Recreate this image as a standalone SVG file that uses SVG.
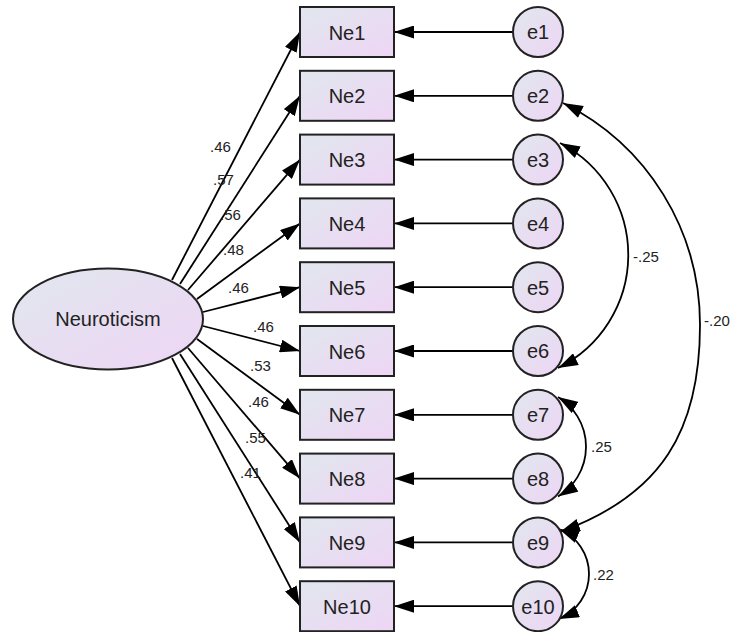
<svg xmlns="http://www.w3.org/2000/svg" width="731" height="632" viewBox="0 0 731 632">
  <defs>
    <linearGradient id="fillGrad" x1="0" y1="0" x2="1" y2="1">
      <stop offset="0" stop-color="#e1e7ee"/>
      <stop offset="1" stop-color="#eed5f5"/>
    </linearGradient>
    <marker id="arrow" viewBox="0 0 20 13" refX="20" refY="6.5" markerWidth="20" markerHeight="13" markerUnits="userSpaceOnUse" orient="auto-start-reverse">
      <path d="M0,0 L20,6.5 L0,13 z" fill="#000"/>
    </marker>
    <style>
      .box { fill: url(#fillGrad); stroke: #222; stroke-width: 2; }
      .err { fill: url(#fillGrad); stroke: #222; stroke-width: 2; }
      .lat { fill: url(#fillGrad); stroke: #222; stroke-width: 2; }
      .path { fill: none; stroke: #000; stroke-width: 1.8; marker-end: url(#arrow); }
      .cov { fill: none; stroke: #000; stroke-width: 1.8; marker-start: url(#arrow); marker-end: url(#arrow); }
      .name { font-family: "Liberation Sans", Arial, sans-serif; font-size: 20px; fill: #222; text-anchor: middle; }
      .coef { font-family: "Liberation Sans", Arial, sans-serif; font-size: 15px; fill: #222; }
    </style>
  </defs>

  <!-- connectors -->
  <g id="connectors">
    <!-- factor loadings -->
    <path class="path" d="M172,280 L300,32"/>
    <path class="path" d="M180,284 L300,95.8"/>
    <path class="path" d="M188,290 L300,159.6"/>
    <path class="path" d="M197,299 L300,223.4"/>
    <path class="path" d="M203,312 L300,287.2"/>
    <path class="path" d="M203,326 L300,351"/>
    <path class="path" d="M197,339 L300,414.8"/>
    <path class="path" d="M188,348 L300,478.6"/>
    <path class="path" d="M180,354 L300,542.4"/>
    <path class="path" d="M172,358 L300,606.2"/>
    <!-- error terms -->
    <path class="path" d="M513,32 L394,32"/>
    <path class="path" d="M513,95.8 L394,95.8"/>
    <path class="path" d="M513,159.6 L394,159.6"/>
    <path class="path" d="M513,223.4 L394,223.4"/>
    <path class="path" d="M513,287.2 L394,287.2"/>
    <path class="path" d="M513,351 L394,351"/>
    <path class="path" d="M513,414.8 L394,414.8"/>
    <path class="path" d="M513,478.6 L394,478.6"/>
    <path class="path" d="M513,542.4 L394,542.4"/>
    <path class="path" d="M513,606.2 L394,606.2"/>
    <!-- error covariances -->
    <path class="cov" d="M563,103 C647.7,145.3 700,230.3 700,325 C700,430 662,495 560,532"/>
    <path class="cov" d="M560,143 A126,126 0 0 1 558,368"/>
    <path class="cov" d="M558,397 A58.2,58.2 0 0 1 558,496.5"/>
    <path class="cov" d="M559,529 A48.75,48.75 0 0 1 559,619"/>
    <!-- coefficients -->
    <text class="coef" x="210" y="151.5">.46</text>
    <text class="coef" x="213" y="185">.57</text>
    <text class="coef" x="220" y="219.5">.56</text>
    <text class="coef" x="223" y="255">.48</text>
    <text class="coef" x="228" y="293">.46</text>
    <text class="coef" x="253" y="331.5">.46</text>
    <text class="coef" x="250" y="370.5">.53</text>
    <text class="coef" x="248" y="407">.46</text>
    <text class="coef" x="245" y="442.5">.55</text>
    <text class="coef" x="240" y="478">.41</text>
    <text class="coef" x="633" y="261.5">-.25</text>
    <text class="coef" x="704" y="325.5">-.20</text>
    <text class="coef" x="591" y="451.5">.25</text>
    <text class="coef" x="593" y="580">.22</text>
  </g>

  <!-- latent factor -->
  <g id="Neuroticism">
    <ellipse class="lat" cx="108" cy="319" rx="95" ry="50.5"/>
    <text class="name" x="108" y="326">Neuroticism</text>
  </g>

  <!-- observed items -->
  <g id="Ne1"><rect class="box" x="300" y="7" width="94" height="50"/><text class="name" x="347" y="39.5">Ne1</text></g>
  <g id="Ne2"><rect class="box" x="300" y="70.8" width="94" height="50"/><text class="name" x="347" y="103.3">Ne2</text></g>
  <g id="Ne3"><rect class="box" x="300" y="134.6" width="94" height="50"/><text class="name" x="347" y="167.1">Ne3</text></g>
  <g id="Ne4"><rect class="box" x="300" y="198.4" width="94" height="50"/><text class="name" x="347" y="230.9">Ne4</text></g>
  <g id="Ne5"><rect class="box" x="300" y="262.2" width="94" height="50"/><text class="name" x="347" y="294.7">Ne5</text></g>
  <g id="Ne6"><rect class="box" x="300" y="326" width="94" height="50"/><text class="name" x="347" y="358.5">Ne6</text></g>
  <g id="Ne7"><rect class="box" x="300" y="389.8" width="94" height="50"/><text class="name" x="347" y="422.3">Ne7</text></g>
  <g id="Ne8"><rect class="box" x="300" y="453.6" width="94" height="50"/><text class="name" x="347" y="486.1">Ne8</text></g>
  <g id="Ne9"><rect class="box" x="300" y="517.4" width="94" height="50"/><text class="name" x="347" y="549.9">Ne9</text></g>
  <g id="Ne10"><rect class="box" x="300" y="581.2" width="94" height="50"/><text class="name" x="347" y="613.7">Ne10</text></g>

  <!-- error terms -->
  <g id="e1"><circle class="err" cx="538" cy="32" r="25"/><text class="name" x="538" y="39.3">e1</text></g>
  <g id="e2"><circle class="err" cx="538" cy="95.8" r="25"/><text class="name" x="538" y="103.1">e2</text></g>
  <g id="e3"><circle class="err" cx="538" cy="159.6" r="25"/><text class="name" x="538" y="166.9">e3</text></g>
  <g id="e4"><circle class="err" cx="538" cy="223.4" r="25"/><text class="name" x="538" y="230.7">e4</text></g>
  <g id="e5"><circle class="err" cx="538" cy="287.2" r="25"/><text class="name" x="538" y="294.5">e5</text></g>
  <g id="e6"><circle class="err" cx="538" cy="351" r="25"/><text class="name" x="538" y="358.3">e6</text></g>
  <g id="e7"><circle class="err" cx="538" cy="414.8" r="25"/><text class="name" x="538" y="422.1">e7</text></g>
  <g id="e8"><circle class="err" cx="538" cy="478.6" r="25"/><text class="name" x="538" y="485.9">e8</text></g>
  <g id="e9"><circle class="err" cx="538" cy="542.4" r="25"/><text class="name" x="538" y="549.7">e9</text></g>
  <g id="e10"><circle class="err" cx="538" cy="606.2" r="25"/><text class="name" x="538" y="613.5">e10</text></g>
</svg>
